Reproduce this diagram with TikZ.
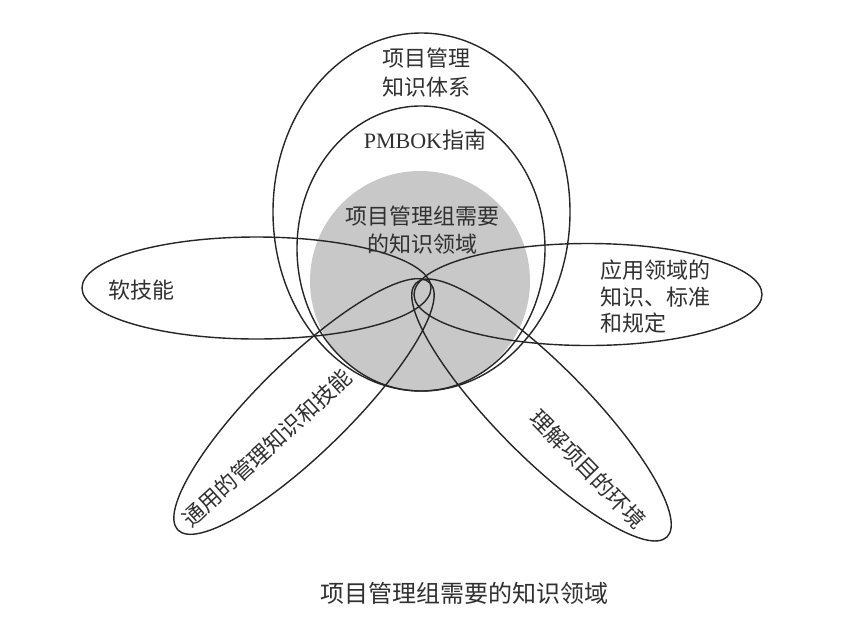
\documentclass[tikz,border=0pt]{standalone}
\usepackage{fontspec}
\setmainfont{Liberation Serif}
\newfontfamily\cjk{Noto Sans CJK SC}
\usetikzlibrary{shapes.geometric}
\definecolor{linec}{HTML}{262626}
\definecolor{textc}{HTML}{303030}
\definecolor{shade}{HTML}{C8C8C8}
\begin{document}
\begin{tikzpicture}[x=1pt,y=-1pt,
  ring/.style={ellipse,draw=linec,line width=1.4pt,inner sep=0pt,outer sep=0pt},
  petal/.style={ellipse,draw=linec,line width=1.4pt,inner sep=0pt,outer sep=0pt},
  lbl/.style={text=textc,inner sep=0pt,font=\cjk\fontsize{22}{29}\selectfont,align=center}]
\fill[white] (0,0) rectangle (846,630);
\useasboundingbox (0,0) rectangle (846,630);
% shaded core circle
\node[circle,fill=shade,minimum size=220pt,inner sep=0pt] (team) at (420,281) {};
% nested rings
\node[ring,minimum width=297pt,minimum height=358pt] (kb) at (421.5,212) {};
\node[ring,minimum width=248pt,minimum height=285pt] (guide) at (421,248.5) {};
% petals
\node[petal,minimum width=349pt,minimum height=102pt] (soft) at (256.5,288) {};
\node[petal,minimum width=348pt,minimum height=102pt] (appl) at (588,294.5) {};
\node[petal,minimum width=353pt,minimum height=92pt,rotate=44.4] (gen) at (304,406.5) {};
\node[petal,minimum width=357pt,minimum height=92pt,rotate=-45.3] (env) at (541.5,410) {};
% labels
\node[lbl] (tkb) at (426.5,73) {项目管理\\知识体系};
\node[lbl,font=\fontsize{22}{29}\selectfont] (tguide) at (425,140) {PMBOK{\cjk 指南}};
\node[lbl,font=\cjk\fontsize{22}{28}\selectfont] (tteam) at (422.5,230.5) {项目管理组需要\\的知识领域};
\node[lbl] (tsoft) at (141,290) {软技能};
\node[lbl,align=left,anchor=west,font=\cjk\fontsize{22}{26.6}\selectfont] (tappl) at (600,296.7) {应用领域的\\知识、标准\\和规定};
\node[lbl,rotate=42.5] (tgen) at (267,448) {通用的管理知识和技能};
\node[lbl,rotate=-46] (tenv) at (588,469) {理解项目的环境};
\node[lbl,font=\cjk\fontsize{24}{28}\selectfont] (caption) at (464,593) {项目管理组需要的知识领域};
\end{tikzpicture}
\end{document}
